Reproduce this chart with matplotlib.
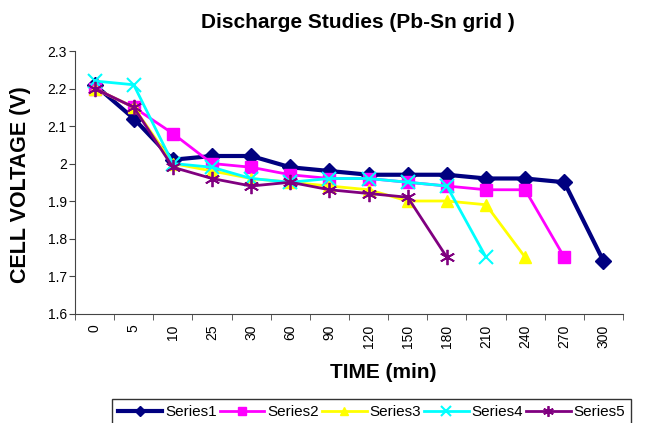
import numpy as np
import matplotlib
matplotlib.use("Agg")
import matplotlib.pyplot as plt
from matplotlib import rcParams
from matplotlib.ticker import FormatStrFormatter, FixedLocator

# Fonte parecida com Arial
rcParams['font.family'] = ['Liberation Sans', 'DejaVu Sans']

# Categorias do eixo x (tempo em minutos)
tempos = ["0", "5", "10", "25", "30", "60", "90", "120", "150", "180", "210", "240", "270", "300"]

# Tensao da celula (V) para cada serie
series1 = [2.21, 2.12, 2.01, 2.02, 2.02, 1.99, 1.98, 1.97, 1.97, 1.97, 1.96, 1.96, 1.95, 1.74]
series2 = [2.20, 2.15, 2.08, 2.00, 1.99, 1.97, 1.96, 1.96, 1.95, 1.94, 1.93, 1.93, 1.75]
series3 = [2.20, 2.15, 2.00, 1.98, 1.96, 1.95, 1.94, 1.93, 1.90, 1.90, 1.89, 1.75]
series4 = [2.22, 2.21, 2.00, 1.99, 1.96, 1.95, 1.96, 1.96, 1.95, 1.94, 1.75]
series5 = [2.20, 2.15, 1.99, 1.96, 1.94, 1.95, 1.93, 1.92, 1.91, 1.75]

nomes = ["Series1", "Series2", "Series3", "Series4", "Series5"]

fig = plt.figure(figsize=(6.6, 4.23), dpi=100)
ax = fig.add_axes([75 / 660, 1 - 313.5 / 423, (623 - 75) / 660, (313.5 - 51) / 423])

x = np.arange(len(tempos))

ax.plot(x[:len(series1)], series1, marker="D", color="#000080", lw=3, ms=8, label=nomes[0])
ax.plot(x[:len(series2)], series2, marker="s", color="#FF00FF", lw=2, ms=8, label=nomes[1])
ax.plot(x[:len(series3)], series3, marker="^", color="#FFFF00", lw=2, ms=9, label=nomes[2])
ax.plot(x[:len(series4)], series4, marker="x", color="#00FFFF", lw=2, ms=10, mew=1.5, label=nomes[3])
ax.plot(x[:len(series5)], series5, marker=(6, 2, 0), color="#800080", lw=2, ms=11, mew=1.3, label=nomes[4])

# Eixos
ax.set_xlim(-0.5, len(tempos) - 0.5)
ax.set_ylim(1.6, 2.3)
ax.set_yticks(np.arange(1.6, 2.31, 0.1))
ax.yaxis.set_major_formatter(FormatStrFormatter("%g"))
ax.set_xticks(x)
ax.set_xticklabels(tempos, rotation=90)
ax.xaxis.set_minor_locator(FixedLocator(np.arange(-0.5, len(tempos), 1.0)))
ax.tick_params(axis="x", which="major", length=0, pad=8, labelsize=10)
ax.tick_params(axis="x", which="minor", length=4, direction="out", color="#444444")
ax.tick_params(axis="y", length=4, direction="out", color="#444444", labelsize=10, pad=2)
for lado in ["top", "right"]:
    ax.spines[lado].set_visible(False)
for lado in ["left", "bottom"]:
    ax.spines[lado].set_color("#444444")

# Titulos
fig.text(358 / 660, 1 - 22 / 423, "Discharge Studies (Pb-Sn grid )", ha="center", va="center",
         fontsize=15, fontweight="bold")
fig.text(21 / 660, 1 - 185 / 423, "CELL VOLTAGE (V)", ha="center", va="center", rotation=90,
         fontsize=15.5, fontweight="bold")
fig.text(383 / 660, 1 - 372 / 423, "TIME (min)", ha="center", va="center",
         fontsize=15, fontweight="bold")

# Legenda
leg = fig.legend(loc="upper left", bbox_to_anchor=(112 / 660, 1 - 399 / 423), ncol=5,
                 fontsize=11, frameon=True, fancybox=False, handlelength=2.9, markerscale=0.7,
                 columnspacing=0.2, handletextpad=0.2, borderpad=0.4, borderaxespad=0)
leg.get_frame().set_edgecolor("black")
leg.get_frame().set_linewidth(1.0)

plt.savefig("out.png", dpi=100)
